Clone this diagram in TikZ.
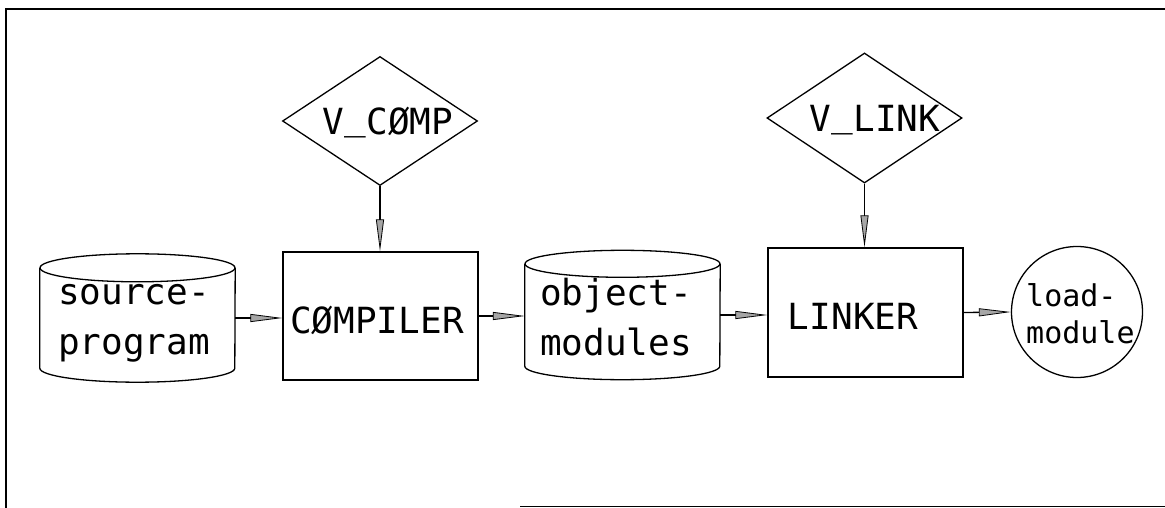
\documentclass[tikz,border=0pt]{standalone}
\usepackage{fontspec}
\setmonofont{DejaVu Sans Mono}
\usetikzlibrary{shapes.geometric,arrows.meta}
\newcommand{\usc}{\raisebox{5pt}{\_}}
\tikzset{
  ln/.style={line width=1.3pt},
  box/.style={ln,draw,rectangle,inner sep=0pt,minimum width=195pt,minimum height=128pt},
  dia/.style={ln,draw,diamond,inner sep=0pt,minimum width=195pt,minimum height=129pt},
  cylbody/.style={inner sep=0pt,minimum width=195pt},
  lbl/.style={font=\ttfamily\fontsize{36}{50}\selectfont,inner sep=0pt},
  slbl/.style={font=\ttfamily\fontsize{30}{37}\selectfont,inner sep=0pt},
  conn/.style={ln,-{Triangle[length=32pt,width=8pt,fill=gray!70,line width=0.8pt]}}
}
\begin{document}
\begin{tikzpicture}[x=1pt,y=-1pt]
\useasboundingbox (0,0) rectangle (1165,508);
% frame
\draw[ln] (1170,9) -- (6,9) -- (6,510);
\draw[ln] (520,506.5) -- (1170,506.5);

% source-program cylinder
\node[cylbody,minimum height=100pt] (src) at (137.5,318) {};
\draw[ln] (src.north) ellipse [x radius=97.5, y radius=14];
\draw[ln] (src.north west) -- (src.south west)
  arc[start angle=180,end angle=0,x radius=97.5,y radius=14] -- (src.north east);
\node[lbl,anchor=west,align=left] (srct) at (58,323) {source-\\program};

% COMPILER
\node[box] (comp) at (380.5,316) {};
\node[lbl] (compt) at (377,320) {CØMPILER};

% V_COMP
\node[dia] (vcomp) at (380,121) {};
\node[lbl] (vcompt) at (388,123) {V\usc CØMP};

% object-modules cylinder
\node[cylbody,minimum height=102pt] (obj) at (622.5,315) {};
\draw[ln] (obj.north) ellipse [x radius=97.5, y radius=13.5];
\draw[ln] (obj.north west) -- (obj.south west)
  arc[start angle=180,end angle=0,x radius=97.5,y radius=13.5] -- (obj.north east);
\node[lbl,anchor=west,align=left] (objt) at (540,317) {object-\\modules};

% LINKER
\node[box,minimum height=129pt] (link) at (865.5,312.5) {};
\node[lbl] (linkt) at (853,316) {LINKER};

% V_LINK
\node[dia,minimum height=130pt] (vlink) at (864.5,118) {};
\node[lbl] (vlinkt) at (875,120) {V\usc LINK};

% load-module
\node[ln,draw,circle,inner sep=0pt,minimum size=131pt] (load) at (1077,312) {};
\node[slbl,anchor=west,align=left] (loadt) at (1026,314) {load-\\module};

% connectors
\draw[conn] (src.east) -- (src.east -| comp.west);
\draw[conn] (vcomp.south) -- (vcomp.south |- comp.north);
\draw[conn] (comp.east) -- (comp.east -| obj.west);
\draw[conn] (obj.east) -- (obj.east -| link.west);
\draw[conn] (vlink.south) -- (vlink.south |- link.north);
\draw[conn] (link.east) -- (load.west);
\end{tikzpicture}
\end{document}
